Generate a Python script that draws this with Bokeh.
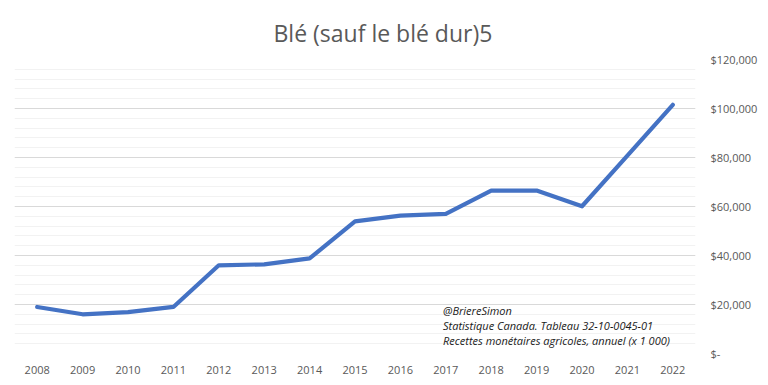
from bokeh.plotting import figure
from bokeh.models import Range1d, SingleIntervalTicker, Label, Title
from bokeh.embed import file_html
from bokeh.resources import INLINE

# ---- data ----
years = [2008, 2009, 2010, 2011, 2012, 2013, 2014, 2015, 2016, 2017, 2018, 2019, 2020, 2021, 2022]
recettes = [19000, 16000, 16900, 19000, 36000, 36400, 38800, 53900, 56300, 57000, 66500, 66500, 60100, 80800, 101500]
y_tick_values = [0, 20000, 40000, 60000, 80000, 100000, 120000]
y_tick_labels = ["$-", "$20,000", "$40,000", "$60,000", "$80,000", "$100,000", "$120,000"]
title_text = "Blé (sauf le blé dur)5"
note_lines = ["@BriereSimon",
              "Statistique Canada. Tableau 32-10-0045-01",
              "Recettes monétaires agricoles, annuel (x 1 000)"]

FONT = "Open Sans"
GREY = "#595959"

p = figure(width=760, height=377, output_backend="svg", toolbar_location=None,
           x_range=Range1d(2007.5, 2022.5), y_range=Range1d(0, 120000),
           y_axis_location="right",
           min_border_left=14, min_border_right=63, min_border_top=59, min_border_bottom=24)
p.outline_line_color = None
p.background_fill_color = "white"
p.border_fill_color = "white"

p.title = Title(text=title_text, align="left", text_font_size="23px",
                text_font="Open Sans", text_font_style="normal", text_color=GREY,
                standoff=22, offset=259)

p.line(years, recettes, line_color="#4472C4", line_width=4.2, line_join="round", line_cap="round")

# x axis
p.xaxis.ticker = years
p.xaxis.axis_line_color = None
p.xaxis.major_tick_line_color = None
p.xaxis.minor_tick_line_color = None
p.xaxis.major_label_text_font = FONT
p.xaxis.major_label_text_font_size = "11px"
p.xaxis.major_label_text_color = GREY
p.xaxis.major_label_standoff = 6
p.xgrid.grid_line_color = None

# y axis
yt = SingleIntervalTicker(interval=20000, num_minor_ticks=5)
p.yaxis.ticker = yt
p.ygrid.ticker = yt
p.yaxis.major_label_overrides = {v: s for v, s in zip(y_tick_values, y_tick_labels)}
p.yaxis.axis_line_color = None
p.yaxis.major_tick_line_color = None
p.yaxis.minor_tick_line_color = None
p.yaxis.major_tick_out = 0
p.yaxis.minor_tick_out = 0
p.yaxis.major_tick_in = 0
p.yaxis.minor_tick_in = 0
p.yaxis.major_label_text_font = FONT
p.yaxis.major_label_text_font_size = "11px"
p.yaxis.major_label_text_color = GREY
p.yaxis.major_label_standoff = 15
p.ygrid.grid_line_color = "#d9d9d9"
p.ygrid.grid_line_width = 1
p.ygrid.minor_grid_line_color = "#f2f2f2"
p.ygrid.minor_grid_line_width = 1

# note
for yv, txt in zip([17390, 11270, 5310], note_lines):
    p.add_layout(Label(x=2016.94, y=yv, text=txt, text_font=FONT, text_font_style="italic",
                       text_font_size="11px", text_color="#1a1a1a", text_baseline="alphabetic"))

open("out.html", "w").write(file_html(p, INLINE))
